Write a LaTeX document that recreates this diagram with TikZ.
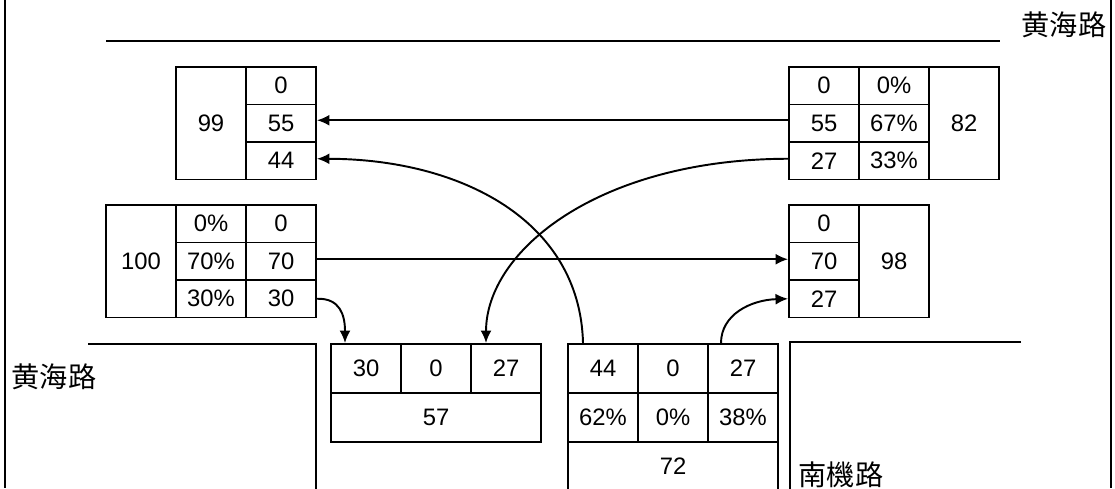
\documentclass[tikz,border=0pt]{standalone}
\usepackage{fontspec}
\setmainfont{Liberation Sans}
\newfontfamily\cjk{Noto Sans CJK TC}
\usetikzlibrary{arrows.meta}
\begin{document}
\begin{tikzpicture}[x=0.02cm,y=-0.02cm,
cell/.style={draw,line width=1.1pt,minimum width=1.4cm,minimum height=0.75cm,inner sep=0pt,font=\fontsize{13.5bp}{15bp}\selectfont},
tall/.style={cell,minimum height=2.25cm},
low/.style={cell,minimum height=0.98cm},
wide/.style={low,minimum width=4.2cm},
road/.style={line width=1.4pt},
roadname/.style={font=\cjk\fontsize{16bp}{18bp}\selectfont,inner sep=0pt},
flow/.style={line width=1.1pt,-{Latex[length=2.5mm,width=2.2mm]}}]
\useasboundingbox (0,0) rectangle (1115,488);
\draw[road] (5,0)--(5,488);\draw[road] (1111,0)--(1111,488);
\draw[road] (106,41)--(1000,41);
\draw[road] (88,344)--(316,344)--(316,490);
\draw[road] (1021,342)--(790,342)--(790,490);
\node[roadname] (n1) at (1064,25) {黄海路};
\node[roadname] (n2) at (54,377) {黄海路};
\node[roadname] (n3) at (841,475) {南機路};
\node[tall] (a99) at (211,123.25) {99};
\node[cell] (a0) at (281,85.75) {0};
\node[cell] (a55) at (281,123.25) {55};
\node[cell] (a44) at (281,160.75) {44};
\node[cell] (b0) at (824,85.75) {0};
\node[cell] (b55) at (824,123.25) {55};
\node[cell] (b27) at (824,160.75) {27};
\node[cell] (bp0) at (894,85.75) {0\%};
\node[cell] (bp55) at (894,123.25) {67\%};
\node[cell] (bp27) at (894,160.75) {33\%};
\node[tall] (b82) at (964,123.25) {82};
\node[tall] (c100) at (141,261.25) {100};
\node[cell] (cp0) at (211,223.75) {0\%};
\node[cell] (cp70) at (211,261.25) {70\%};
\node[cell] (cp30) at (211,298.75) {30\%};
\node[cell] (c0) at (281,223.75) {0};
\node[cell] (c70) at (281,261.25) {70};
\node[cell] (c30) at (281,298.75) {30};
\node[cell] (d0) at (824,223.75) {0};
\node[cell] (d70) at (824,261.25) {70};
\node[cell] (d27) at (824,298.75) {27};
\node[tall] (d98) at (894,261.25) {98};
\node[low] (e30) at (366,368.5) {30};
\node[low] (e0) at (436,368.5) {0};
\node[low] (e27) at (506,368.5) {27};
\node[wide] (e57) at (436,417.5) {57};
\node[low] (f44) at (603,368.5) {44};
\node[low] (f0) at (673,368.5) {0};
\node[low] (f27) at (743,368.5) {27};
\node[low] (fp44) at (603,417.5) {62\%};
\node[low] (fp0) at (673,417.5) {0\%};
\node[low] (fp27) at (743,417.5) {38\%};
\node[wide] (f72) at (673,466.5) {72};
\draw[flow] ([yshift=0.06cm]b55.west)--([yshift=0.06cm]a55.east);
\draw[flow] ([yshift=0.04cm]c70.east)--([yshift=0.04cm]d70.west);
\draw[flow] ([yshift=0.04cm]b27.west) .. controls (600,159) and (486,250) .. ([xshift=-0.4cm]e27.north);
\draw[flow] ([xshift=-0.4cm]f44.north) .. controls (580,220) and (460,159) .. ([yshift=0.04cm]a44.east);
\draw[flow] (c30.east) .. controls (340,298) and (345,315) .. ([xshift=-0.42cm]e30.north);
\draw[flow] ([xshift=-0.44cm]f27.north) .. controls (721,315) and (750,300) .. (d27.west);
\end{tikzpicture}
\end{document}
